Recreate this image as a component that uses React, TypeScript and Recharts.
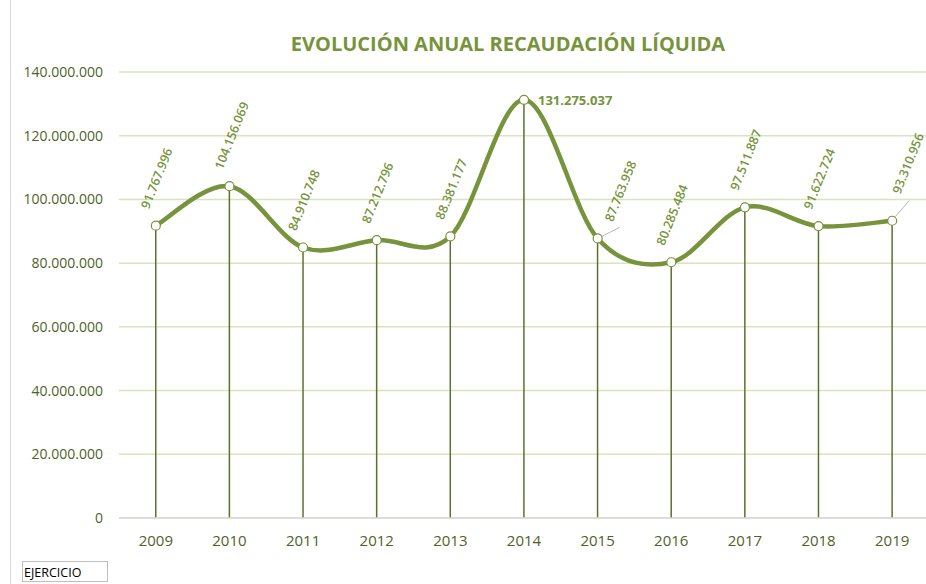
import React from 'react';
import { ComposedChart, Line, Bar, XAxis, YAxis, CartesianGrid, LabelList } from 'recharts';

const years = ['2009', '2010', '2011', '2012', '2013', '2014', '2015', '2016', '2017', '2018', '2019'];
const recaudacion = [
  91767996, 104156069, 84910748, 87212796, 88381177, 131275037, 87763958, 80285484, 97511887, 91622724,
  93310956,
];
const yTicks = [0, 20000000, 40000000, 60000000, 80000000, 100000000, 120000000, 140000000];

const data = years.map((year, i) => ({ year, value: recaudacion[i] }));

const GREEN = '#77933C';
const DARK = '#4F6228';
const FONT = '"Open Sans", sans-serif';

const fmt = (v: number) => String(v).replace(/\B(?=(\d{3})+(?!\d))/g, '.');

// Excel-style smoothed line (Catmull-Rom segments drawn as beziers)
const excelSmooth = (context: any) => {
  let pts: number[][] = [];
  return {
    areaStart() {},
    areaEnd() {},
    lineStart() {
      pts = [];
    },
    point(x: number, y: number) {
      pts.push([+x, +y]);
    },
    lineEnd() {
      if (!pts.length) return;
      context.moveTo(pts[0][0], pts[0][1]);
      for (let i = 0; i < pts.length - 1; i++) {
        const p0 = pts[i - 1] || pts[i];
        const p1 = pts[i];
        const p2 = pts[i + 1];
        const p3 = pts[i + 2] || p2;
        context.bezierCurveTo(
          p1[0] + (p2[0] - p0[0]) / 6,
          p1[1] + (p2[1] - p0[1]) / 6,
          p2[0] - (p3[0] - p1[0]) / 6,
          p2[1] - (p3[1] - p1[1]) / 6,
          p2[0],
          p2[1],
        );
      }
    },
  };
};

// label tweaks where Excel moved the label away from its point
const moved: Record<number, { dx: number; dy: number; lead: number[] }> = {
  6: { dx: 22, dy: 0, lead: [4, -2, 22, -11] },
  10: { dx: 15, dy: -10, lead: [3, -4, 17, -20] },
};

const renderLabel = (props: any) => {
  const { x, y, value, index } = props;
  const text = fmt(Number(value));
  if (index === 5) {
    return (
      <text x={x + 14} y={y + 5} fill={GREEN} fontSize={13} fontWeight={700} fontFamily={FONT}>
        {text}
      </text>
    );
  }
  const m = moved[index];
  const tx = x - 7 + (m ? m.dx : 0);
  const ty = y - 16 + (m ? m.dy : 0);
  return (
    <g>
      {m && (
        <line
          x1={x + m.lead[0]}
          y1={y + m.lead[1]}
          x2={x + m.lead[2]}
          y2={y + m.lead[3]}
          stroke="#A6A6A6"
          strokeWidth={0.8}
        />
      )}
      <text
        x={tx}
        y={ty}
        transform={`rotate(-68 ${tx} ${ty})`}
        fill={GREEN}
        fontSize={12.5}
        fontWeight={600}
        fontFamily={FONT}
        textAnchor="start"
      >
        {text}
      </text>
    </g>
  );
};

export default function App() {
  return (
    <div
      style={{
        position: 'absolute',
        left: 0,
        top: 0,
        width: 926,
        height: 584,
        overflow: 'hidden',
        background: '#fff',
        fontFamily: FONT,
      }}
    >
      <div style={{ position: 'absolute', left: 10, top: 0, width: 1, height: 584, background: '#D9D9D9' }} />
      <div
        style={{
          position: 'absolute',
          left: 0,
          top: 30,
          width: 1016,
          textAlign: 'center',
          color: GREEN,
          fontWeight: 700,
          fontSize: 20,
        }}
      >
        EVOLUCIÓN ANUAL RECAUDACIÓN LÍQUIDA
      </div>
      <ComposedChart
        width={940}
        height={584}
        data={data}
        margin={{ top: 72, right: 11, bottom: 26, left: 0 }}
        style={{ position: 'absolute', left: 0, top: 0 }}
      >
        <CartesianGrid vertical={false} stroke="#D7E4BD" strokeWidth={1.5} />
        <XAxis
          dataKey="year"
          height={40}
          tickSize={0}
          tickMargin={17}
          axisLine={{ stroke: '#D9D9D9', strokeWidth: 1.5 }}
          tick={{ fill: DARK, fontSize: 15, fontFamily: FONT }}
        />
        <YAxis
          width={119}
          domain={[0, 140000000]}
          ticks={yTicks}
          tickFormatter={fmt}
          tickSize={0}
          tickMargin={16}
          axisLine={false}
          tick={{ fill: DARK, fontSize: 14, fontFamily: FONT }}
        />
        <Bar dataKey="value" barSize={1.5} fill="#5C7030" isAnimationActive={false} />
        <Line
          dataKey="value"
          type={excelSmooth as any}
          stroke={GREEN}
          strokeWidth={4.5}
          dot={{ r: 4.5, fill: '#fff', stroke: GREEN, strokeWidth: 1.2 }}
          activeDot={false}
          isAnimationActive={false}
        >
          <LabelList dataKey="value" content={renderLabel} />
        </Line>
      </ComposedChart>
      <div
        style={{
          position: 'absolute',
          left: 22,
          top: 561,
          width: 86,
          height: 21,
          border: '1px solid #BFBFBF',
          fontSize: 12.5,
          lineHeight: '22px',
          color: '#000',
          paddingLeft: 1,
          boxSizing: 'border-box',
        }}
      >
        EJERCICIO
      </div>
    </div>
  );
}
